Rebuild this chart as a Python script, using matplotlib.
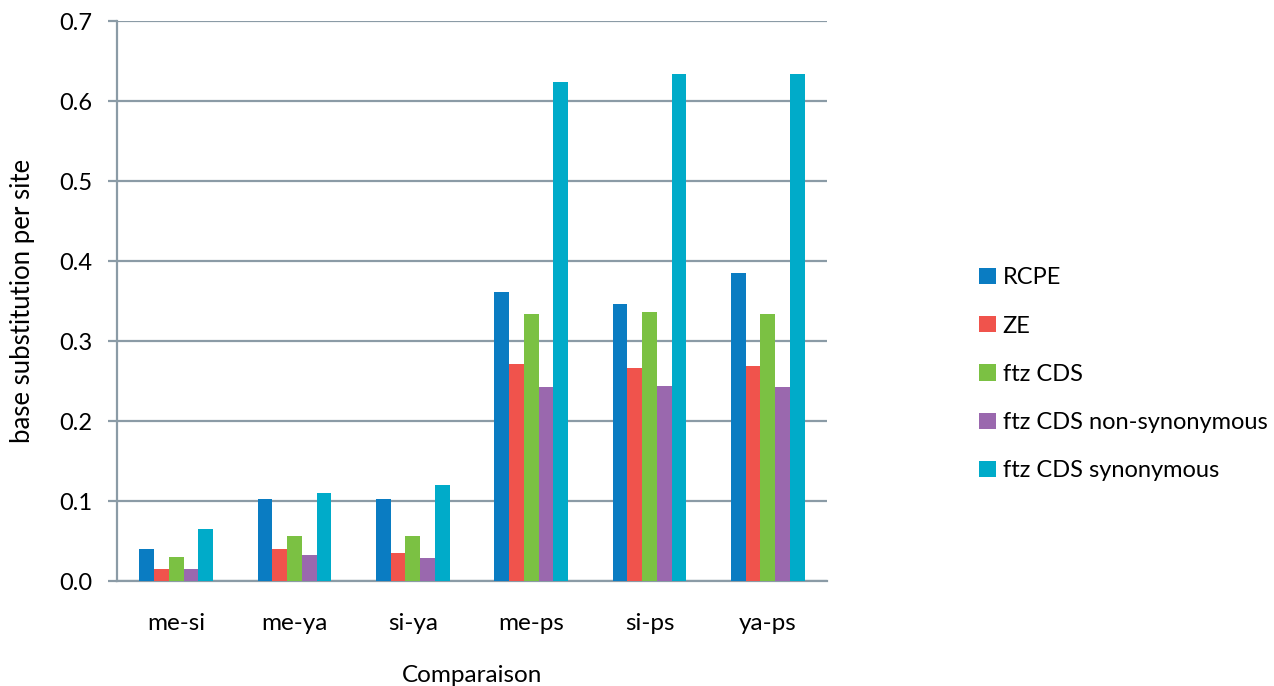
import numpy as np
import matplotlib
matplotlib.use("Agg")
import matplotlib.pyplot as plt
from matplotlib.patches import Patch

plt.rcParams['font.family'] = ['Lato', 'DejaVu Sans']

comparisons = ["me-si", "me-ya", "si-ya", "me-ps", "si-ps", "ya-ps"]
series_names = ["RCPE", "ZE", "ftz CDS", "ftz CDS non-synonymous", "ftz CDS synonymous"]

rcpe = [0.040, 0.102, 0.1025, 0.361, 0.346, 0.385]
ze = [0.0146, 0.040, 0.035, 0.271, 0.266, 0.269]
ftz_cds = [0.030, 0.056, 0.0565, 0.334, 0.336, 0.334]
ftz_nonsyn = [0.0146, 0.032, 0.029, 0.2425, 0.244, 0.2425]
ftz_syn = [0.065, 0.110, 0.120, 0.624, 0.634, 0.634]

colors = ["#0a7cc2", "#f0534c", "#7bc143", "#9a68ae", "#00abc9"]
values = [rcpe, ze, ftz_cds, ftz_nonsyn, ftz_syn]

W, H = 1274, 686
fig = plt.figure(figsize=(W / 100, H / 100), dpi=100)
ax_left, ax_right, ax_top, ax_bottom = 117, 827, 21, 581
ax = fig.add_axes([ax_left / W, 1 - ax_bottom / H,
                   (ax_right - ax_left) / W, (ax_bottom - ax_top) / H])

x = np.arange(len(comparisons))
bw = 0.125
for i, (vals, col) in enumerate(zip(values, colors)):
    ax.bar(x + (i - 2) * bw, vals, width=bw, color=col, linewidth=0, zorder=3)

ax.set_xlim(-0.5, len(comparisons) - 0.5)
ax.set_ylim(0, 0.7)
yticks = np.arange(0, 0.71, 0.1)
ax.set_yticks(yticks)
ax.set_yticklabels([f"{t:.1f}" for t in yticks], fontsize=17)
ax.set_xticks(x)
ax.set_xticklabels(comparisons, fontsize=17.5)

grid_col = "#8b9ba6"
ax.yaxis.grid(True, color=grid_col, linewidth=1.6, zorder=0)
ax.set_axisbelow(True)
for s in ["top", "right"]:
    ax.spines[s].set_visible(False)
for s in ["left", "bottom"]:
    ax.spines[s].set_color(grid_col)
    ax.spines[s].set_linewidth(1.6)
ax.tick_params(axis="y", length=6.5, width=1.6, color=grid_col, pad=11)
ax.tick_params(axis="x", length=0, pad=23)

ax_h = ax_bottom - ax_top
ax_w = ax_right - ax_left
ax.set_ylabel("base substitution per site", fontsize=18.5)
ax.yaxis.label.set_va("center")
ax.yaxis.set_label_coords((22 - ax_left) / ax_w, 0.5)
ax.set_xlabel("Comparaison", fontsize=17.5)
ax.xaxis.label.set_va("center")
ax.xaxis.set_label_coords(0.5, (ax_bottom - 676) / ax_h)

handles = [Patch(facecolor=c, edgecolor="none") for c in colors]
fig.legend(handles, series_names, loc="upper left",
           bbox_to_anchor=(970 / W, 1 - 258 / H), frameon=False,
           fontsize=17, handlelength=0.68, handleheight=0.68,
           handletextpad=0.3, labelspacing=1.15, borderaxespad=0)

fig.savefig("out.png", dpi=100)
